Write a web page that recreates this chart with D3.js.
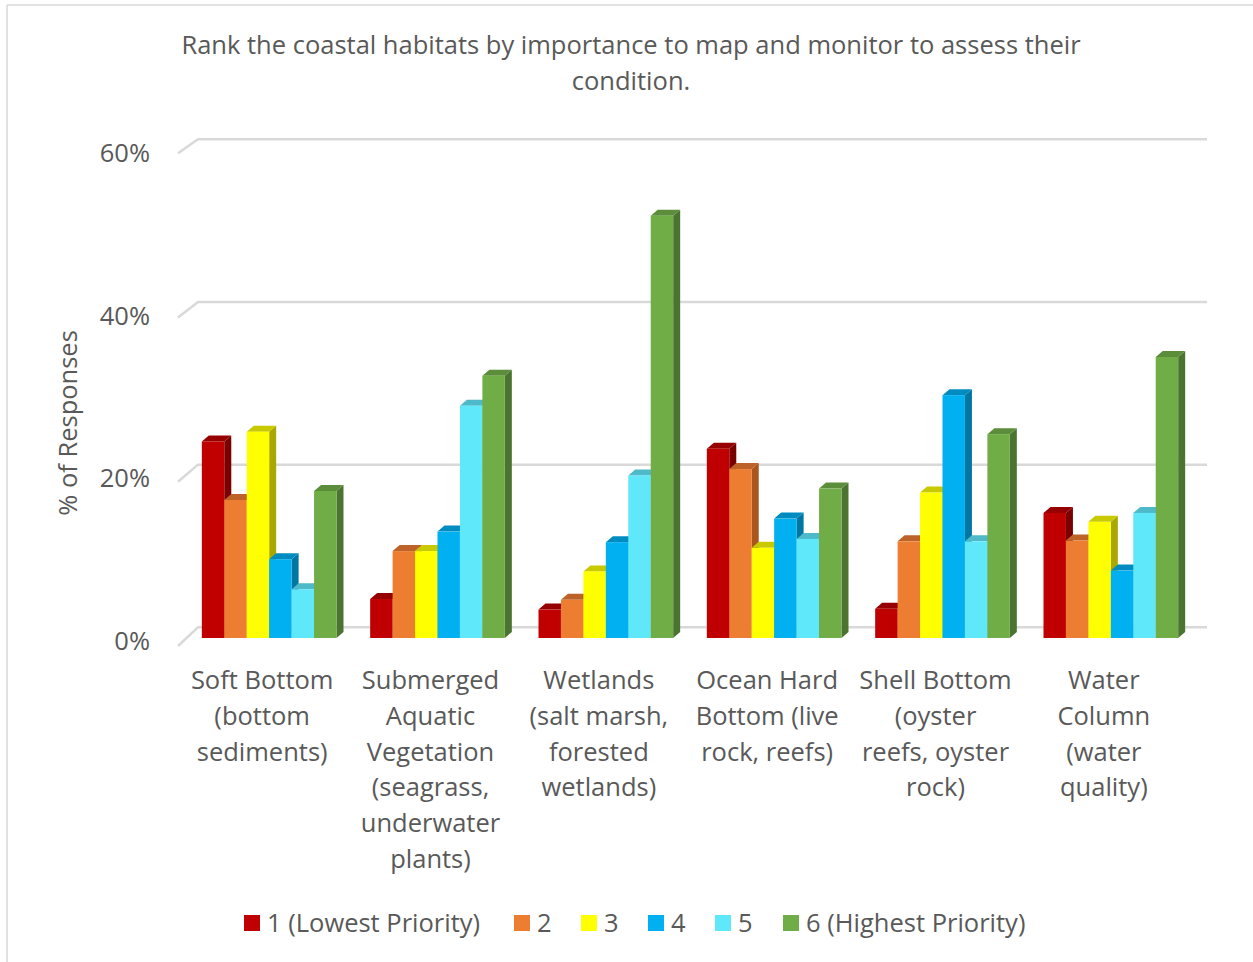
<!DOCTYPE html>
<html><head><meta charset="utf-8">
<script src="https://cdn.jsdelivr.net/npm/d3@7"></script>
<style>body{margin:0;background:#fff;} svg{display:block;}</style>
</head><body>
<svg id="c" width="1253" height="962"></svg>
<script>
const categories = [
  ["Soft Bottom","(bottom","sediments)"],
  ["Submerged","Aquatic","Vegetation","(seagrass,","underwater","plants)"],
  ["Wetlands","(salt marsh,","forested","wetlands)"],
  ["Ocean Hard","Bottom (live","rock, reefs)"],
  ["Shell Bottom","(oyster","reefs, oyster","rock)"],
  ["Water","Column","(water","quality)"]
];
const seriesNames = ["1 (Lowest Priority)","2","3","4","5","6 (Highest Priority)"];
const s1 = [24.2, 4.8, 3.5, 23.3, 3.6, 15.4];
const s2 = [17.0, 10.7, 4.7, 20.8, 11.9, 12.0];
const s3 = [25.4, 10.7, 8.2, 11.1, 17.9, 14.3];
const s4 = [9.7, 13.1, 11.8, 14.7, 29.9, 8.3];
const s5 = [6.0, 28.6, 20.0, 12.2, 11.9, 15.4];
const s6 = [18.1, 32.3, 52.0, 18.4, 25.1, 34.6];
const yTicks = [0, 20, 40, 60];
const tickLabels = ["0%","20%","40%","60%"];
const titleLines = ["Rank the coastal habitats by importance to map and monitor to assess their","condition."];
const axisTitle = "% of Responses";

const series = [s1,s2,s3,s4,s5,s6];
const front = ["#C00000","#ED7D31","#FFFF00","#00B0F0","#5FE8FA","#70AD47"];
const side  = ["#7A0000","#A9561F","#A8A800","#0076A3","#45AFBD","#4A7430"];
const top_  = ["#960000","#BD6228","#C9C900","#008CC0","#4DB9C9","#5B8D3A"];

const svg = d3.select("#c");
const font = "'Open Sans', sans-serif";
const fs = 25.5;
const txt = "#595959";

// border
svg.append("line").attr("x1",7).attr("y1",5).attr("x2",1253).attr("y2",5).attr("stroke","#D9D9D9").attr("stroke-width",1.5);
svg.append("line").attr("x1",7).attr("y1",5).attr("x2",7).attr("y2",962).attr("stroke","#D9D9D9").attr("stroke-width",1.5);

// scales
const yBack = d3.scaleLinear().domain([0,60]).range([627.3,139.3]);
const yFront = d3.scaleLinear().domain([0,60]).range([646,153.3]);
const yBar = d3.scaleLinear().domain([0,60]).range([638,150.7]);
const xBand = d3.scaleBand().domain(d3.range(6)).range([185,1195]).paddingInner(0.2).paddingOuter(0.1);
const xSub = d3.scaleBand().domain(d3.range(6)).range([0,xBand.bandwidth()]);
const xLabel = d3.scaleBand().domain(d3.range(6)).range([178,1188]);

// gridlines
const grid = svg.append("g");
yTicks.forEach(t => {
  grid.append("path")
    .attr("d", `M178,${yFront(t)} L198,${yBack(t)} L1207,${yBack(t)}`)
    .attr("fill","none").attr("stroke","#D9D9D9").attr("stroke-width",2.5);
});

// tick labels
svg.append("g").selectAll("text").data(yTicks).join("text")
  .attr("x",150).attr("y",t=>yBack(t)+16).attr("text-anchor","end").attr("dominant-baseline","middle")
  .attr("font-family",font).attr("font-size",fs).attr("fill",txt)
  .text((t,i)=>tickLabels[i]);

// axis title
svg.append("text").attr("transform","translate(77,423) rotate(-90)")
  .attr("text-anchor","middle").attr("font-family",font).attr("font-size",fs).attr("fill",txt)
  .text(axisTitle);

// bars
const dx = 7, dy = 6;
const bars = svg.append("g");
categories.forEach((c,ci) => {
  const g = bars.append("g");
  series.forEach((s,si) => {
    const x0 = xBand(ci) + xSub(si), w = xSub.bandwidth();
    const x1 = x0 + w, yt = yBar(s[ci]), yb = yBar(0);
    g.append("path").attr("d",`M${x1},${yt} L${x1+dx},${yt-dy} L${x1+dx},${yb-dy} L${x1},${yb} Z`).attr("fill",side[si]);
    g.append("path").attr("d",`M${x0},${yt} L${x0+dx},${yt-dy} L${x1+dx},${yt-dy} L${x1},${yt} Z`).attr("fill",top_[si]);
    g.append("rect").attr("x",x0).attr("y",yt).attr("width",w).attr("height",yb-yt).attr("fill",front[si]);
  });
});

// category labels
const cl = svg.append("g");
categories.forEach((lines,ci) => {
  const t = cl.append("text").attr("text-anchor","middle").attr("font-family",font).attr("font-size",fs).attr("fill",txt);
  lines.forEach((l,li) => {
    t.append("tspan").attr("x", xLabel(ci)+xLabel.bandwidth()/2).attr("y", 689 + li*35.8).text(l);
  });
});

// title
svg.append("g").selectAll("text").data(titleLines).join("text")
  .attr("x",631).attr("y",(d,i)=>54+i*35.5).attr("text-anchor","middle")
  .attr("font-family",font).attr("font-size",fs).attr("fill",txt).text(d=>d);

// legend
const legX = [244, 514, 581, 648, 715, 783];
const leg = svg.append("g");
seriesNames.forEach((n,i) => {
  leg.append("rect").attr("x",legX[i]).attr("y",915).attr("width",16).attr("height",16).attr("fill",front[i]);
  leg.append("text").attr("x",legX[i]+23).attr("y",932).attr("font-family",font).attr("font-size",fs).attr("fill",txt).text(n);
});
</script>
</body></html>
